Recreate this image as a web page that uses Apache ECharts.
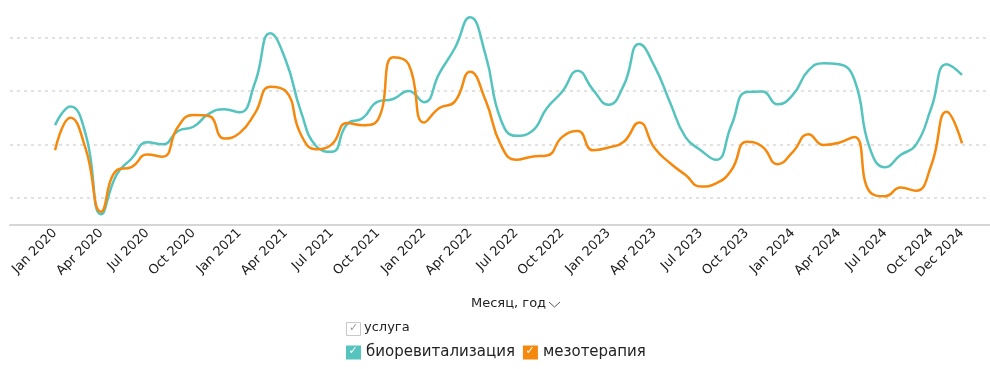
<!DOCTYPE html>
<html>
<head>
<meta charset="utf-8">
<script src="https://cdn.jsdelivr.net/npm/echarts@6/dist/echarts.min.js"></script>
<style>
  html, body { margin: 0; padding: 0; background: #fff; }
  #chart { width: 990px; height: 369px; }
</style>
</head>
<body>
<div id="chart"></div>
<script>
const months = [
  'Jan 2020','Feb 2020','Mar 2020','Apr 2020','May 2020','Jun 2020','Jul 2020','Aug 2020','Sep 2020','Oct 2020','Nov 2020','Dec 2020',
  'Jan 2021','Feb 2021','Mar 2021','Apr 2021','May 2021','Jun 2021','Jul 2021','Aug 2021','Sep 2021','Oct 2021','Nov 2021','Dec 2021',
  'Jan 2022','Feb 2022','Mar 2022','Apr 2022','May 2022','Jun 2022','Jul 2022','Aug 2022','Sep 2022','Oct 2022','Nov 2022','Dec 2022',
  'Jan 2023','Feb 2023','Mar 2023','Apr 2023','May 2023','Jun 2023','Jul 2023','Aug 2023','Sep 2023','Oct 2023','Nov 2023','Dec 2023',
  'Jan 2024','Feb 2024','Mar 2024','Apr 2024','May 2024','Jun 2024','Jul 2024','Aug 2024','Sep 2024','Oct 2024','Nov 2024','Dec 2024'
];
const tickMonths = ['Jan 2020','Apr 2020','Jul 2020','Oct 2020','Jan 2021','Apr 2021','Jul 2021','Oct 2021','Jan 2022','Apr 2022','Jul 2022','Oct 2022','Jan 2023','Apr 2023','Jul 2023','Oct 2023','Jan 2024','Apr 2024','Jul 2024','Oct 2024','Dec 2024'];
const seriesNames = ['биоревитализация', 'мезотерапия'];
const biorevitalization = [
  236,271,218,69,143,174,204,200,225,233,257,266,
  260,315,408,358,261,196,186,238,249,280,285,300,
  279,333,380,438,368,246,216,224,268,299,338,302,
  274,311,388,346,279,214,189,171,236,298,299,275,
  293,338,352,350,321,193,157,180,199,268,350,330
];
const mesotherapy = [
  189,250,191,74,151,158,181,177,233,255,253,211,
  221,258,308,300,218,191,200,240,236,246,363,350,
  241,268,280,336,283,199,171,177,179,214,225,189,
  194,205,241,193,165,143,121,127,152,205,196,163,
  186,219,199,203,214,111,103,119,113,161,261,202
];
const gridValues = [100, 200, 300, 400];

const tealColor = '#55C4BE';
const orangeColor = '#F5890D';
const font = 'DejaVu Sans';

const chart = echarts.init(document.getElementById('chart'), null, { renderer: 'canvas' });
const tickIdx = tickMonths.map(m => months.indexOf(m));

const option = {
  animation: false,
  textStyle: { fontFamily: font },
  grid: { left: 10, right: 0, top: 5, bottom: 144, containLabel: false },
  xAxis: {
    type: 'value',
    min: -2.93,
    max: 60.82,
    axisLine: { show: true, lineStyle: { color: '#d6d6d6', width: 2 } },
    axisTick: { show: false, customValues: tickIdx },
    splitLine: { show: false },
    axisLabel: {
      customValues: tickIdx,
      rotate: 45,
      margin: 6,
      fontFamily: font,
      fontSize: 13,
      color: '#1a1a1a',
      formatter: v => months[Math.round(v)]
    }
  },
  yAxis: {
    type: 'value',
    min: 49,
    max: 461,
    axisLine: { show: false },
    axisTick: { show: false, customValues: gridValues },
    axisLabel: { show: false, customValues: gridValues },
    splitLine: { show: true, lineStyle: { color: '#d9d9d9', type: [3, 4], width: 1.5 } }
  },
  legend: {
    left: 346,
    top: 345,
    padding: 0,
    itemWidth: 15,
    itemHeight: 14,
    itemGap: 8,
    icon: 'rect',
    textStyle: { fontFamily: font, fontSize: 15, color: '#222' },
    data: seriesNames
  },
  series: [
    {
      name: seriesNames[0],
      type: 'line',
      smooth: 0.5,
      showSymbol: false,
      lineStyle: { width: 2.5, color: tealColor },
      itemStyle: { color: tealColor },
      data: biorevitalization.map((v, i) => [i, v])
    },
    {
      name: seriesNames[1],
      type: 'line',
      smooth: 0.5,
      showSymbol: false,
      lineStyle: { width: 2.5, color: orangeColor },
      itemStyle: { color: orangeColor },
      data: mesotherapy.map((v, i) => [i, v])
    }
  ],
  graphic: [
    { type: 'text', left: 471, top: 297, style: { text: 'Месяц, год', font: '13px "DejaVu Sans"', fill: '#222' } },
    { type: 'polyline', shape: { points: [[549, 302], [554.5, 307], [560, 302]] }, style: { stroke: '#555', lineWidth: 1, fill: null } },
    { type: 'rect', shape: { x: 346.5, y: 322.5, width: 14, height: 13 }, style: { fill: '#fff', stroke: '#c8c8c8', lineWidth: 1 } },
    { type: 'text', x: 349, y: 323, style: { text: '✓', font: '11px "DejaVu Sans"', fill: '#999' } },
    { type: 'text', left: 364, top: 321, style: { text: 'услуга', font: '13px "DejaVu Sans"', fill: '#222' } }
  ]
};
chart.setOption(option);

// White check marks over the legend boxes (placed after legend layout)
setTimeout(() => {
  const legendCmp = chart.getModel().getComponent('legend');
  const view = legendCmp ? chart.getViewOfComponentModel(legendCmp) : null;
  const extra = [];
  if (view) {
    const items = view.getContentGroup().children();
    items.forEach(g => {
      const x = view.group.x + view.getContentGroup().x + g.x;
      const y = view.group.y + view.getContentGroup().y + g.y;
      extra.push({ type: 'text', x: x + 2.5, y: y + 0.5, z: 100, style: { text: '✓', font: '11px "DejaVu Sans"', fill: '#fff' } });
    });
  }
  chart.setOption({ graphic: option.graphic.concat(extra) });
}, 0);
</script>
</body>
</html>
